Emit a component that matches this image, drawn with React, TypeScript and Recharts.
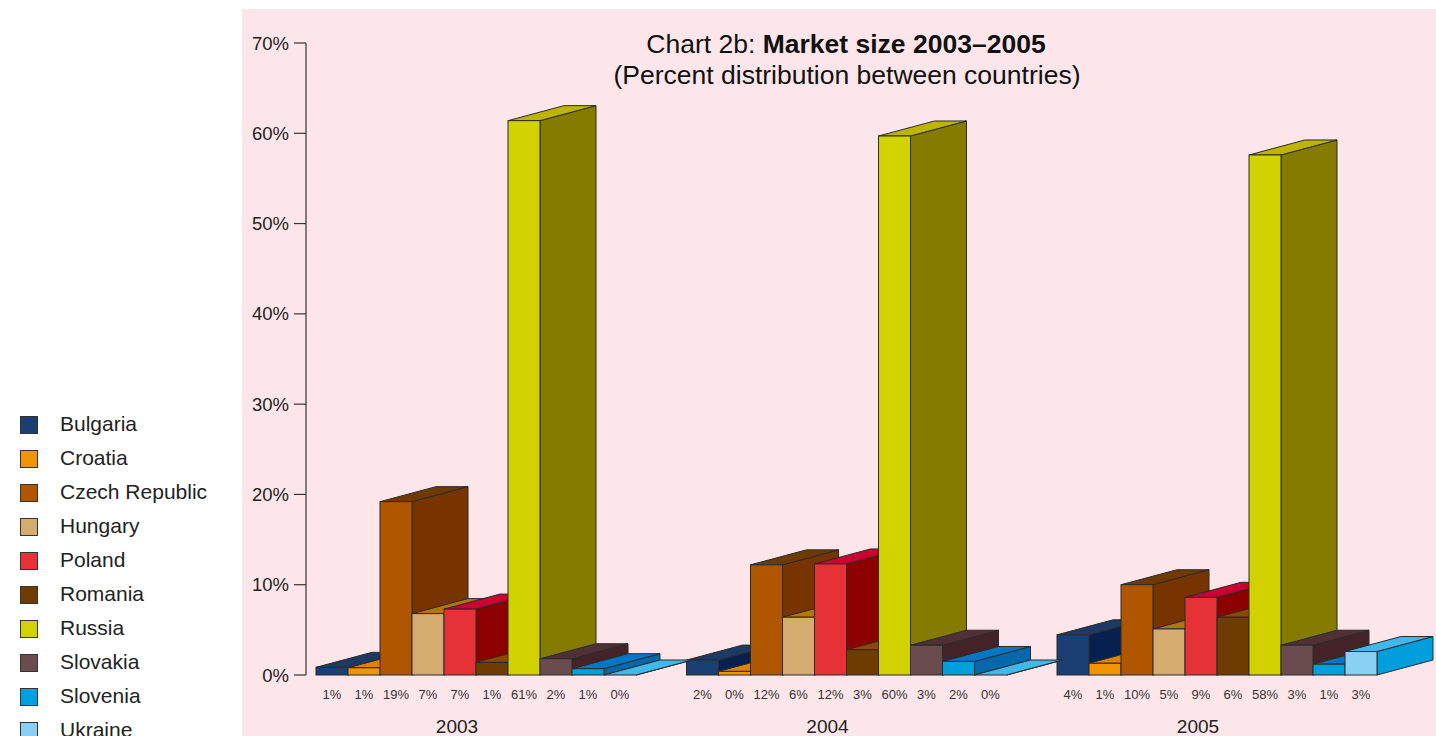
import React from 'react';
import { BarChart, Bar, XAxis, YAxis } from 'recharts';

const years = ['2003', '2004', '2005'];
const countries = ['Bulgaria', 'Croatia', 'Czech Republic', 'Hungary', 'Poland', 'Romania', 'Russia', 'Slovakia', 'Slovenia', 'Ukraine'];

const bulgaria = [0.85, 1.65, 4.45];
const croatia = [0.8, 0.4, 1.3];
const czechRepublic = [19.2, 12.2, 10.0];
const hungary = [6.8, 6.4, 5.1];
const poland = [7.3, 12.3, 8.6];
const romania = [1.4, 2.8, 6.4];
const russia = [61.4, 59.7, 57.6];
const slovakia = [1.8, 3.3, 3.3];
const slovenia = [0.7, 1.5, 1.2];
const ukraine = [0, 0, 2.6];

const yTicks = [0, 10, 20, 30, 40, 50, 60, 70];

const seriesValues: Record<string, number[]> = {
  'Bulgaria': bulgaria,
  'Croatia': croatia,
  'Czech Republic': czechRepublic,
  'Hungary': hungary,
  'Poland': poland,
  'Romania': romania,
  'Russia': russia,
  'Slovakia': slovakia,
  'Slovenia': slovenia,
  'Ukraine': ukraine,
};

const palette: Record<string, { front: string; side: string; top: string }> = {
  'Bulgaria': { front: '#1b3f72', side: '#06204f', top: '#1c3a64' },
  'Croatia': { front: '#f29400', side: '#c06a00', top: '#dc8400' },
  'Czech Republic': { front: '#b05600', side: '#773400', top: '#6e3a00' },
  'Hungary': { front: '#d5ac6f', side: '#9a6218', top: '#b3760a' },
  'Poland': { front: '#e63237', side: '#8c0000', top: '#cc0030' },
  'Romania': { front: '#6e3c00', side: '#7a3e00', top: '#8c4a00' },
  'Russia': { front: '#d2d200', side: '#857b00', top: '#bdb400' },
  'Slovakia': { front: '#6a4c4f', side: '#432327', top: '#4f3036' },
  'Slovenia': { front: '#00a0dc', side: '#0068ac', top: '#0077c2' },
  'Ukraine': { front: '#88d0f4', side: '#009edc', top: '#40b8ec' },
};

const data = years.map((year, i) => {
  const row: Record<string, string | number> = { year };
  countries.forEach((c) => {
    row[c] = seriesValues[c][i];
  });
  return row;
});

const FONT = '"Liberation Sans", Arial, Helvetica, sans-serif';
const DX = 56;
const DY = 15;
const EDGE = '#2b2b2b';

const makeShape = (country: string) => (props: any) => {
  const { x, y, width, height, value } = props;
  const c = palette[country];
  const h = Math.max(0, Number(height) || 0);
  const top = Number(y);
  const base = top + h;
  const w = Number(width);
  const v = Array.isArray(value) ? value[1] - value[0] : value;
  return (
    <g>
      <polygon
        points={`${x + w},${top} ${x + w + DX},${top - DY} ${x + w + DX},${base - DY} ${x + w},${base}`}
        fill={c.side}
        stroke={EDGE}
        strokeWidth={1}
        strokeLinejoin="round"
      />
      <polygon
        points={`${x},${top} ${x + DX},${top - DY} ${x + w + DX},${top - DY} ${x + w},${top}`}
        fill={c.top}
        stroke={EDGE}
        strokeWidth={1}
        strokeLinejoin="round"
      />
      {h > 0 && (
        <rect x={x} y={top} width={w} height={h} fill={c.front} stroke={EDGE} strokeWidth={1} />
      )}
      <text
        x={x + w / 2}
        y={base + 24}
        textAnchor="middle"
        fontSize={13}
        fill="#333"
        fontFamily={FONT}
      >
        {`${Math.round(Number(v))}%`}
      </text>
    </g>
  );
};

const YearTick = (props: any) => {
  const { x, y, payload } = props;
  return (
    <text x={x - 20} y={y + 50} textAnchor="middle" fontSize={19} fill="#222" fontFamily={FONT}>
      {payload.value}
    </text>
  );
};

const YTick = (props: any) => {
  const { x, y, payload } = props;
  return (
    <text x={x} y={y} dy={6.5} textAnchor="end" fontSize={18.5} fill="#222" fontFamily={FONT}>
      {`${payload.value}%`}
    </text>
  );
};

export default function App() {
  return (
    <div style={{ position: 'absolute', left: 0, top: 0, width: 1436, height: 736, background: '#ffffff', overflow: 'hidden', fontFamily: FONT }}>
      <div style={{ position: 'absolute', left: 242, top: 9, width: 1194, height: 727, background: '#fde6e9' }}>
        <BarChart
          width={1194}
          height={727}
          data={data}
          margin={{ top: 34, right: 32.75, bottom: 31, left: 0 }}
          barCategoryGap={24.25}
          barGap={0}
        >
          <XAxis
            dataKey="year"
            axisLine={false}
            tickLine={false}
            height={30}
            interval={0}
            padding={{ left: -14.25, right: 0 }}
            tick={<YearTick />}
          />
          <YAxis
            width={64}
            domain={[0, 70]}
            ticks={yTicks}
            interval={0}
            tickSize={12}
            tickMargin={5}
            axisLine={{ stroke: '#333', strokeWidth: 1.2 }}
            tickLine={{ stroke: '#333', strokeWidth: 1.2 }}
            tick={<YTick />}
          />
          {countries.map((c) => (
            <Bar key={c} dataKey={c} fill={palette[c].front} isAnimationActive={false} shape={makeShape(c)} />
          ))}
        </BarChart>
      </div>
      <svg width={1436} height={100} style={{ position: 'absolute', left: 0, top: 0, pointerEvents: 'none' }}>
        <text x={846} y={53} textAnchor="middle" fontSize={26.5} fill="#111" fontFamily={FONT}>
          <tspan>Chart 2b: </tspan>
          <tspan fontWeight="bold">Market size 2003–2005</tspan>
        </text>
        <text x={847} y={84} textAnchor="middle" fontSize={26.5} fill="#111" fontFamily={FONT}>
          (Percent distribution between countries)
        </text>
      </svg>
      <div style={{ position: 'absolute', left: 0, top: 0 }}>
        {countries.map((c, i) => (
          <div key={c} style={{ position: 'absolute', left: 0, top: 425 + 34 * i - 12, height: 24, width: 240 }}>
            <div
              style={{
                position: 'absolute',
                left: 20,
                top: 3,
                width: 16,
                height: 16,
                background: palette[c].front,
                border: '1px solid #333',
              }}
            />
            <div style={{ position: 'absolute', left: 60, top: -1, fontSize: 21, lineHeight: '24px', color: '#222', whiteSpace: 'nowrap' }}>
              {c}
            </div>
          </div>
        ))}
      </div>
    </div>
  );
}
